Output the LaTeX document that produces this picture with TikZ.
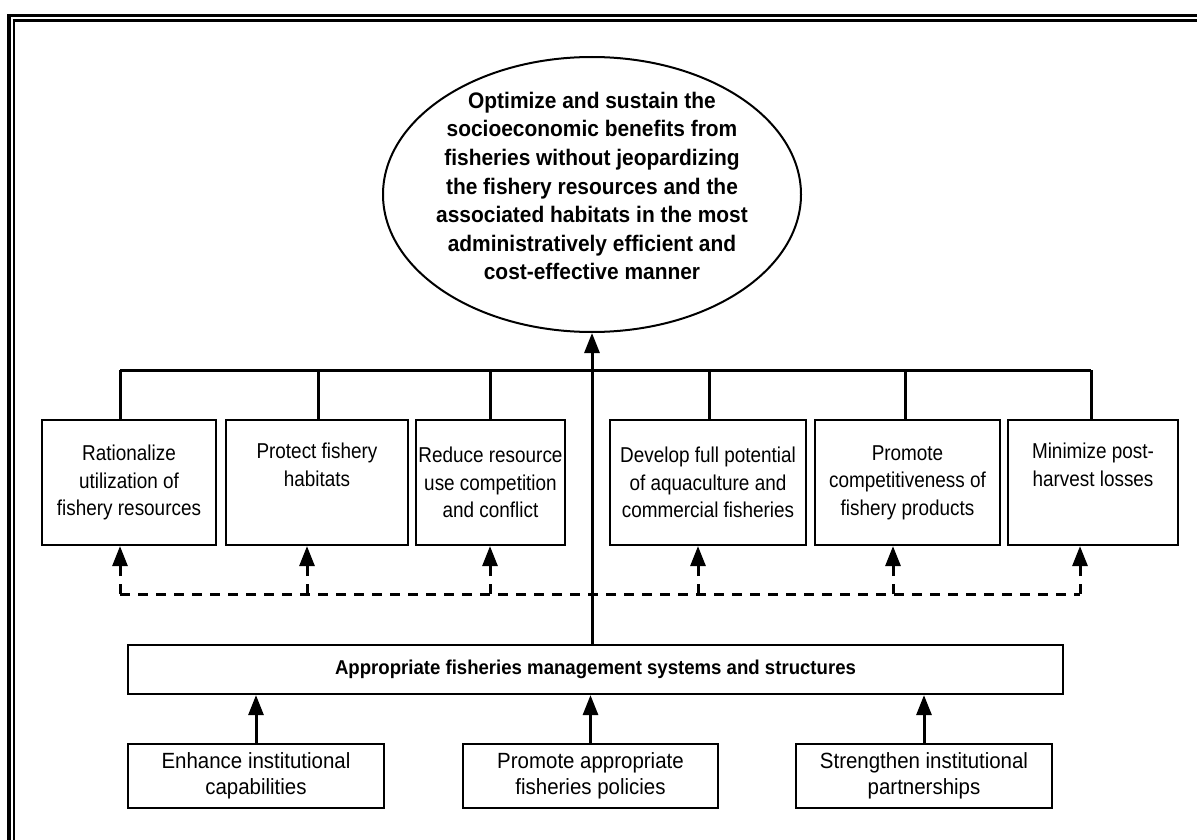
\documentclass[tikz,border=0pt]{standalone}
\usepackage{fontspec}
\setmainfont{Liberation Sans}
% two condensed cuts of the same family
\newfontfamily\narrowA{Liberation Sans}[FakeStretch=0.88]
\newfontfamily\narrowB{Liberation Sans}[FakeStretch=0.93]
\usetikzlibrary{arrows.meta,shapes.geometric}
\begin{document}
\begin{tikzpicture}[x=1pt,y=-1pt,
  box/.style={draw,line width=2.2pt,inner sep=0pt,align=center},
  objfont/.style={font=\narrowA\fontsize{21.5}{27.5}\selectfont},
  stratfont/.style={font=\narrowB\fontsize{22}{26.5}\selectfont},
  goalshape/.style={draw,ellipse,line width=2pt,inner sep=0pt,
    minimum width=418pt,minimum height=275pt},
  goaltext/.style={align=center,inner sep=0pt,
    font=\narrowB\fontsize{22.5}{28.6}\selectfont\bfseries},
  bus/.style={line width=3pt},
  arr/.style={line width=3pt,-{Triangle[length=20pt,width=15pt]}},
  dasharr/.style={line width=3pt,dash pattern=on 10pt off 8pt,
    -{Triangle[length=20pt,width=15pt]}},
  dashline/.style={line width=3pt,dash pattern=on 10pt off 8pt}]
\useasboundingbox (0,0) rectangle (1197,840);
% double frame along the top and left edges
\draw[line width=3.5pt] (9,845) -- (9,15.5) -- (1200,15.5);
\draw[line width=2.8pt] (14,845) -- (14,20.5) -- (1200,20.5);

% goal
\node[goalshape] (goal) at (592,194.5) {};
\node[goaltext] (goaltxt) at (592,186) {Optimize and sustain the\\
  socioeconomic benefits from\\ fisheries without jeopardizing\\
  the fishery resources and the\\ associated habitats in the most\\
  administratively efficient and\\ cost-effective manner};

% objectives
\begin{scope}[every node/.append style={objfont,minimum height=125pt}]
\node[box,minimum width=174pt] (b1) at (129,482.5)
  {Rationalize\\utilization of\\fishery resources};
\node[box,minimum width=182pt] (b2) at (317,482.5)
  {Protect fishery\\habitats\\\strut};
\node[box,minimum width=149pt] (b3) at (490.5,482.5)
  {Reduce resource\\use competition\\and conflict};
\node[box,minimum width=196pt] (b4) at (708,482.5)
  {Develop full potential\\of aquaculture and\\commercial fisheries};
\node[box,minimum width=185pt] (b5) at (907.5,482.5)
  {Promote\\competitiveness of\\fishery products};
\node[box,minimum width=170pt] (b6) at (1093,482.5)
  {Minimize post-\\harvest losses\\\strut};
\end{scope}

% management systems
\node[box,minimum width=935pt,minimum height=49pt,
  font=\narrowB\fontsize{20}{27}\selectfont\bfseries]
  (mgmt) at (595.5,669.5) {Appropriate fisheries management systems and structures};

% strategies
\begin{scope}[every node/.append style={stratfont,minimum height=64pt}]
\node[box,minimum width=256pt] (s1) at (256,776)
  {Enhance institutional\\capabilities};
\node[box,minimum width=255pt] (s2) at (590.5,776)
  {Promote appropriate\\fisheries policies};
\node[box,minimum width=256pt] (s3) at (924,776)
  {Strengthen institutional\\partnerships};
\end{scope}

% bus from the goal down to the objectives
\coordinate (t1) at (120,370);
\coordinate (t2) at (318,370);
\coordinate (t3) at (490,370);
\coordinate (t4) at (709,370);
\coordinate (t5) at (905,370);
\coordinate (t6) at (1091,370);
\draw[bus] (t1) -- (t6);
\foreach \i in {1,...,6} \draw[bus] (t\i) -- (t\i |- b\i.north);

% main arrow
\draw[arr] (goal.south |- mgmt.north) -- (goal.south);

% dashed feedback to the objectives
\coordinate (d1) at (120,594);
\coordinate (d2) at (307,594);
\coordinate (d3) at (490,594);
\coordinate (d4) at (698,594);
\coordinate (d5) at (893,594);
\coordinate (d6) at (1080,594);
\draw[dashline] (d1) -- (d6);
\foreach \i in {1,...,6} \draw[dasharr] (d\i) -- (d\i |- b\i.south);

% strategies into management systems
\foreach \i in {1,2,3} \draw[arr] (s\i.north) -- (s\i.north |- mgmt.south);
\end{tikzpicture}
\end{document}
